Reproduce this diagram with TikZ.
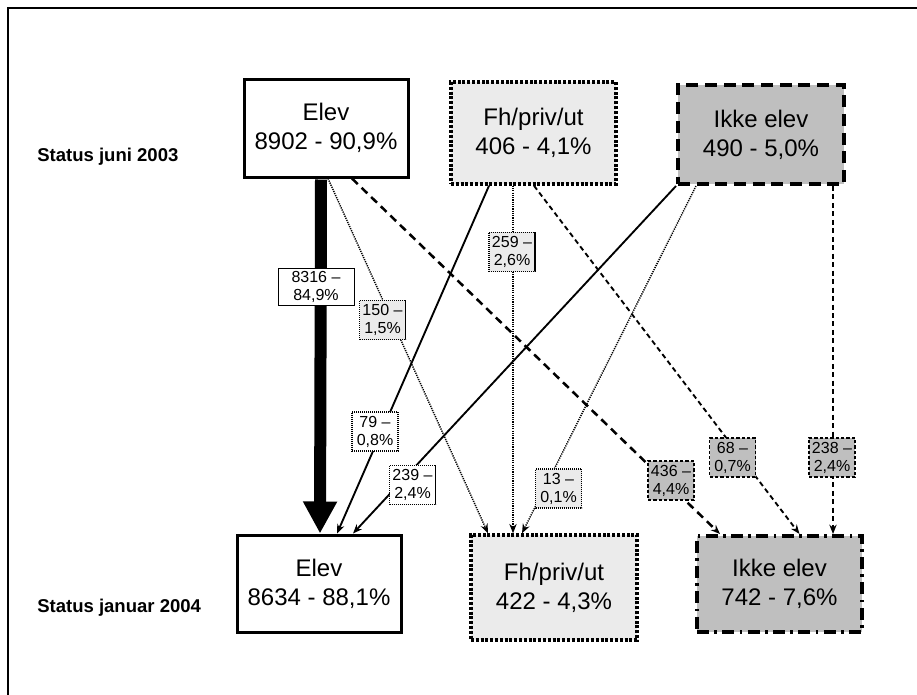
\documentclass[tikz,border=0pt]{standalone}
\usepackage{fontspec}
\setmainfont{Liberation Sans}
\usetikzlibrary{arrows.meta,calc}
\begin{document}
\begin{tikzpicture}[x=0.75pt,y=-0.75pt,
  box/.style={draw=black,align=center,inner sep=0pt,font=\fontsize{18}{21.75}\selectfont},
  elevbox/.style={box,line width=2.25pt,fill=white},
  fhbox/.style={box,line width=2.6pt,dash pattern=on 2.2pt off 1.4pt,fill=black!8},
  ikkebox/.style={box,line width=3pt,dash pattern=on 9pt off 5pt,fill=black!25},
  ikkeboxb/.style={box,line width=3pt,dash pattern=on 9pt off 4pt on 2pt off 4pt,fill=black!25},
  lab/.style={draw=black,align=center,inner sep=0pt,minimum width=34.5pt,minimum height=29.5pt,font=\fontsize{12}{13.5}\selectfont},
  labsolid/.style={lab,line width=0.7pt,fill=white,minimum width=57pt,minimum height=27.75pt},
  labdotfill/.style={lab,line width=1.2pt,dash pattern=on 0.9pt off 0.6pt,fill=black!8},
  labdotwhite/.style={lab,line width=1.2pt,dash pattern=on 0.9pt off 0.6pt,fill=white},
  labdash/.style={lab,line width=1.1pt,dash pattern=on 2.5pt off 1.5pt,fill=black!25},
  tip/.style={-{Stealth[length=7pt,width=5.5pt]}},
  solidc/.style={tip,line width=1.4pt},
  dotc/.style={tip,line width=1.1pt,dash pattern=on 0.9pt off 0.8pt},
  bigdash/.style={tip,line width=1.9pt,dash pattern=on 6pt off 4pt},
  smalldash/.style={tip,line width=1.4pt,dash pattern=on 3.75pt off 2.6pt},
  status/.style={anchor=west,inner sep=0pt,font=\fontsize{13.9}{16}\selectfont\bfseries}
]
\useasboundingbox (0,0) rectangle (917,694);
\draw[line width=2pt] (8,720) -- (8,8) -- (940,8);

\node[status] (s1) at (37,157) {Status juni 2003};
\node[status] (s2) at (37,608) {Status januar 2004};

\node[elevbox,minimum width=123pt,minimum height=73.5pt] (E1) at (326,128) {Elev\\8902 - 90,9\%};
\node[fhbox,minimum width=123.75pt,minimum height=76.5pt] (F1) at (533.5,133) {Fh/priv/ut\\406 - 4,1\%};
\node[ikkebox,minimum width=124.5pt,minimum height=74.25pt] (I1) at (761,134.5) {Ikke elev\\490 - 5,0\%};

\node[elevbox,minimum width=123pt,minimum height=72.75pt] (E2) at (319,583.5) {Elev\\8634 - 88,1\%};
\node[fhbox,minimum width=124.5pt,minimum height=78.75pt] (F2) at (554,587.5) {Fh/priv/ut\\422 - 4,3\%};
\node[ikkeboxb,minimum width=123.75pt,minimum height=72pt] (I2) at (779.5,584) {Ikke elev\\742 - 7,6\%};

% connectors
\draw[line width=9pt,-{Triangle[length=24pt 0 0,width=24pt 0 0]}] ($(E1.south)+(-5,1)$) -- ($(E2.north)+(1,0)$);
\draw[dotc] ($(E1.south)+(2,0)$) -- ($(F2.north)+(-66,0)$);
\draw[bigdash] ($(E1.south)+(26,0)$) -- ($(I2.north)+(-59.5,0)$);
\draw[solidc] ($(F1.south)+(-44.5,0)$) -- ($(E2.north)+(18,0)$);
\draw[dotc] ($(F1.south)+(-20.5,0)$) -- ($(F2.north)+(-41,0)$);
\draw[smalldash] ($(F1.south)+(0.5,0)$) -- ($(I2.north)+(20,0)$);
\draw[solidc] (I1.south west) -- ($(E2.north)+(34,0)$);
\draw[dotc] ($(I1.south)+(-65,0)$) -- ($(F2.north)+(-32,0)$);
\draw[smalldash] ($(I1.south)+(72,0)$) -- ($(I2.north)+(53.5,0)$);

% labels
\node[labsolid] (l1) at (316,286.5) {8316 –\\84,9\%};
\node[labdotfill] (l2) at (382.5,320) {150 –\\1,5\%};
\node[labdotfill] (l3) at (512,252) {259 –\\2,6\%};
\node[labdotwhite] (l4) at (375,431.5) {79 –\\0,8\%};
\node[labdotwhite] (l5) at (412.5,485) {239 –\\2,4\%};
\node[labdotfill] (l6) at (558.5,488.5) {13 –\\0,1\%};
\node[labdash] (l7) at (671,480.5) {436 –\\4,4\%};
\node[labdash] (l8) at (732.5,457.5) {68 –\\0,7\%};
\node[labdash] (l9) at (832,457.5) {238 –\\2,4\%};
\end{tikzpicture}
\end{document}
